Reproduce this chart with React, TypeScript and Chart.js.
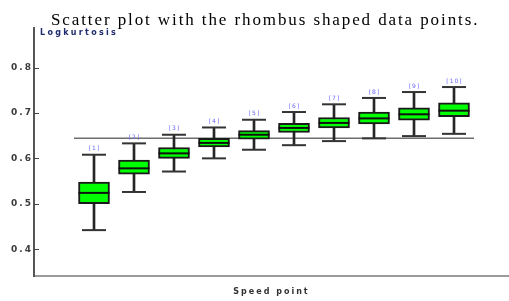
import React, { useEffect, useRef } from "react";
import { Chart, registerables } from "chart.js";

Chart.register(...registerables);

const chartTitle = "Scatter plot with the rhombus shaped data points.";
const yAxisLabel = "Logkurtosis";
const xAxisLabel = "Speed point";

const speedPoints = [1, 2, 3, 4, 5, 6, 7, 8, 9, 10];
const pointLabels = ["[1]", "[2]", "[3]", "[4]", "[5]", "[6]", "[7]", "[8]", "[9]", "[10]"];
const whiskerLow = [0.442, 0.526, 0.571, 0.6, 0.619, 0.629, 0.638, 0.644, 0.649, 0.654];
const quartile1 = [0.5, 0.565, 0.6, 0.625, 0.642, 0.657, 0.667, 0.676, 0.684, 0.692];
const medians = [0.524, 0.578, 0.611, 0.634, 0.652, 0.667, 0.678, 0.688, 0.697, 0.705];
const quartile3 = [0.548, 0.596, 0.624, 0.644, 0.661, 0.677, 0.69, 0.702, 0.711, 0.722];
const whiskerHigh = [0.608, 0.633, 0.652, 0.668, 0.685, 0.702, 0.719, 0.733, 0.746, 0.757];
const referenceLevel = 0.644;
const referenceSpan = [0.5, 10.5];

const yMin = 0.341;
const yMax = 0.887;
const yStep = 0.1;
const xMin = -0.5;
const xMax = 11.375;

const textPlugin = {
  id: "boxText",
  beforeDraw(chart: any) {
    chart.ctx.letterSpacing = "2px";
  },
  afterDraw(chart: any) {
    const { ctx, chartArea, scales } = chart;
    const xs = scales.x;
    const ys = scales.y;
    ctx.save();
    // caption above the plot
    ctx.letterSpacing = "1.9px";
    ctx.font = '17px "Liberation Serif"';
    ctx.fillStyle = "#000";
    ctx.textAlign = "left";
    ctx.textBaseline = "alphabetic";
    ctx.fillText(chartTitle, 51, 25);
    // inward tick marks on the value axis
    ctx.letterSpacing = "0px";
    ctx.strokeStyle = "#444";
    ctx.lineWidth = 1;
    ys.ticks.forEach((t: any) => {
      const py = Math.round(ys.getPixelForValue(t.value)) + 0.5;
      ctx.beginPath();
      ctx.moveTo(chartArea.left, py);
      ctx.lineTo(chartArea.left + 5, py);
      ctx.stroke();
    });
    // value-axis caption inside the plot
    ctx.letterSpacing = "2.3px";
    ctx.font = 'bold 8px "DejaVu Sans"';
    ctx.fillStyle = "#1e2b6e";
    ctx.fillText(yAxisLabel, chartArea.left + 6, chartArea.top + 7);
    // box labels
    ctx.letterSpacing = "1px";
    ctx.font = '6px "DejaVu Sans"';
    ctx.fillStyle = "#6a6aff";
    ctx.textAlign = "center";
    ctx.textBaseline = "middle";
    speedPoints.forEach((sp, i) => {
      ctx.fillText(
        pointLabels[i],
        xs.getPixelForValue(sp) + 0.5,
        ys.getPixelForValue(whiskerHigh[i]) - 6
      );
    });
    ctx.restore();
    ctx.letterSpacing = "0px";
  },
};

export default function App() {
  const canvasRef = useRef<HTMLCanvasElement | null>(null);

  useEffect(() => {
    const canvas = canvasRef.current;
    if (!canvas) return;

    const whiskerData = speedPoints.map((sp, i) => ({ x: sp, y: [whiskerLow[i], whiskerHigh[i]] }));
    const boxData = speedPoints.map((sp, i) => ({ x: sp, y: [quartile1[i], quartile3[i]] }));
    const medianData = speedPoints.map((sp, i) => ({ x: sp, y: medians[i] }));
    const upperCapData = speedPoints.map((sp, i) => ({ x: sp, y: whiskerHigh[i] }));
    const lowerCapData = speedPoints.map((sp, i) => ({ x: sp, y: whiskerLow[i] }));
    const refData = referenceSpan.map((x) => ({ x, y: referenceLevel }));

    const chart = new Chart(canvas, {
      type: "bar",
      data: {
        datasets: [
          {
            type: "line",
            label: "reference",
            data: refData,
            borderColor: "#6e6e6e",
            borderWidth: 1.5,
            pointRadius: 0,
            order: 6,
          } as any,
          {
            type: "bar",
            label: "whiskers",
            data: whiskerData,
            backgroundColor: "#262626",
            borderWidth: 0,
            barThickness: 2,
            grouped: false,
            order: 5,
          } as any,
          {
            type: "bar",
            label: "box",
            data: boxData,
            backgroundColor: "#00ff00",
            borderColor: "#1a1a1a",
            borderWidth: 2,
            borderSkipped: false,
            barThickness: 31,
            grouped: false,
            order: 4,
          } as any,
          {
            type: "line",
            label: "median",
            data: medianData,
            showLine: false,
            pointStyle: "line",
            pointRadius: 15.5,
            pointBorderWidth: 2,
            pointBorderColor: "#111",
            borderColor: "#111",
            order: 3,
          } as any,
          {
            type: "line",
            label: "upper cap",
            data: upperCapData,
            showLine: false,
            pointStyle: "line",
            pointRadius: 12,
            pointBorderWidth: 2,
            pointBorderColor: "#333",
            borderColor: "#333",
            order: 2,
          } as any,
          {
            type: "line",
            label: "lower cap",
            data: lowerCapData,
            showLine: false,
            pointStyle: "line",
            pointRadius: 12,
            pointBorderWidth: 2,
            pointBorderColor: "#333",
            borderColor: "#333",
            order: 2,
          } as any,
        ],
      },
      options: {
        responsive: false,
        animation: false,
        events: [],
        layout: { padding: { top: 28, left: 0, right: 0, bottom: 0 }, autoPadding: false },
        plugins: {
          legend: { display: false },
          tooltip: { enabled: false },
          title: { display: false },
        },
        scales: {
          x: {
            type: "linear",
            min: xMin,
            max: xMax,
            offset: false,
            grid: { display: true, drawOnChartArea: false, drawTicks: false },
            border: { display: true, color: "#9a9a9a", width: 2 },
            ticks: { display: false },
            title: {
              display: true,
              text: xAxisLabel,
              color: "#333",
              font: { family: "DejaVu Sans", size: 8, weight: "bold" },
              padding: { top: 0, bottom: 4 },
            },
            afterFit: (s: any) => {
              s.height = 25;
            },
          },
          y: {
            type: "linear",
            min: yMin,
            max: yMax,
            grid: { display: true, drawOnChartArea: false, drawTicks: false },
            border: { display: true, color: "#555", width: 2 },
            ticks: {
              stepSize: yStep,
              includeBounds: false,
              padding: 1,
              color: "#3a3a3a",
              font: { family: "DejaVu Sans", size: 9, weight: "bold" },
            },
            afterFit: (s: any) => {
              s.width = 34;
            },
          },
        },
      } as any,
      plugins: [textPlugin],
    });

    return () => {
      chart.destroy();
    };
  }, []);

  return (
    <div style={{ position: "absolute", left: 0, top: 0, width: 509, height: 301, background: "#fff" }}>
      <canvas ref={canvasRef} width={509} height={301} style={{ display: "block" }} />
    </div>
  );
}
